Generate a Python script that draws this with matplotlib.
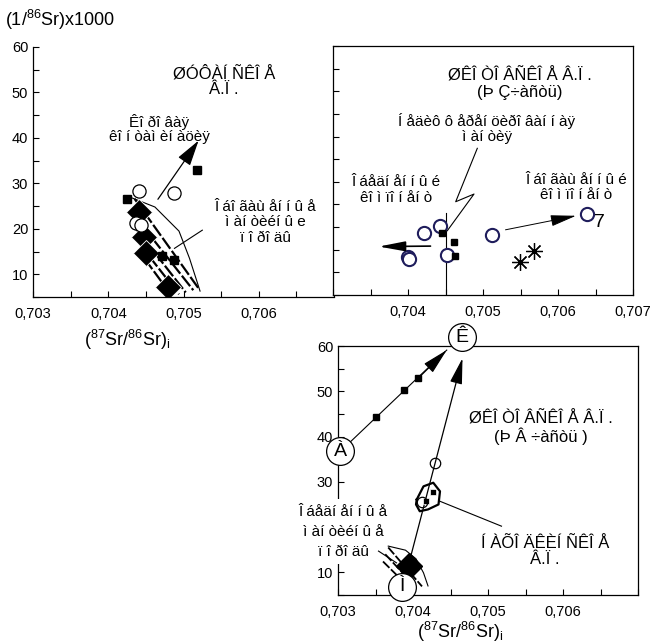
import matplotlib
matplotlib.use("Agg")
import matplotlib.pyplot as plt
from matplotlib.ticker import MultipleLocator, FuncFormatter

plt.rcParams['font.family'] = ['Liberation Sans', 'DejaVu Sans']
plt.rcParams['mathtext.default'] = 'regular'

# ---- Shufan plateau (left) ----
shuf_sq_x = [0.70425, 0.70518, 0.70471, 0.70488]
shuf_sq_y = [26.5, 33.0, 14.0, 13.1]
shuf_circ_x = [0.70441, 0.70487, 0.70437, 0.70444]
shuf_circ_y = [28.3, 27.9, 21.3, 20.8]
shuf_dia_x = [0.70441, 0.70447, 0.70450, 0.70479]
shuf_dia_y = [23.6, 18.2, 14.6, 7.2]
shuf_field_x = [0.70430, 0.70462, 0.70494, 0.70508, 0.70522]
shuf_field_y = [26.9, 24.8, 19.5, 13.5, 6.3]
shuf_stripe_x0 = [0.70435, 0.70432, 0.70436, 0.70441, 0.70448]
shuf_stripe_y0 = [26.6, 23.5, 20.2, 16.8, 13.5]
shuf_stripe_x1 = [0.70520, 0.70513, 0.70503, 0.70494, 0.70484]
shuf_stripe_y1 = [6.9, 6.5, 6.0, 5.6, 5.4]
shuf_crust_from = (0.70466, 26.5)
shuf_crust_to = (0.70520, 39.4)

# ---- Shkotovo plateau, SW part (right) ----
sw_circ_x = [0.70422, 0.70443, 0.70452, 0.70400, 0.70402, 0.70512, 0.70638]
sw_circ_y = [18.8, 20.3, 13.9, 13.3, 13.0, 18.3, 22.8]
sw_sq_x = [0.70445, 0.70461, 0.70462]
sw_sq_y = [18.7, 16.8, 13.6]
sw_star_x = [0.70549, 0.70568]
sw_star_y = [12.2, 14.7]
sw_undiff_x = 0.70450
sw_undiff_top = 23.2
sw_zig_x = [0.704924, 0.704636, 0.70488, 0.704524]
sw_zig_y = [37.4, 25.6, 27.3, 19.2]
sw_depl_from = (0.70430, 15.8)
sw_depl_to = (0.70361, 15.7)
sw_enr_from = (0.70530, 19.4)
sw_enr_to = (0.70624, 22.5)

# ---- Shkotovo SE part and Nakhodka (bottom) ----
end_a = (0.70303, 36.7)
end_k = (0.70465, 61.9)
end_m = (0.703857, 6.8)
ak_tip = (0.70445, 59.1)
mk_start = (0.70393, 11.0)
mk_tip = (0.70466, 57.3)
ak_sq_x = [0.70350, 0.70388, 0.70407]
ak_sq_y = [44.3, 50.2, 52.9]
nakh_sq_x = [0.70417, 0.70427]
nakh_sq_y = [25.7, 27.7]
se_circ_x = [0.70429, 0.70412]
se_circ_y = [34.2, 25.6]
se_dia_x = [0.70394]
se_dia_y = [11.4]
nakh_loop_x = [0.70405, 0.70414, 0.70427, 0.70436, 0.70434, 0.70420, 0.70409, 0.70404, 0.70405]
nakh_loop_y = [26.1, 29.0, 29.8, 27.9, 25.0, 23.9, 23.5, 25.0, 26.1]
se_field_x = [0.70367, 0.70390, 0.70404, 0.70414, 0.70420]
se_field_y = [15.8, 14.9, 13.0, 9.9, 7.0]
se_stripe_x0 = [0.70367, 0.70363, 0.70360]
se_stripe_y0 = [15.5, 14.0, 12.4]
se_stripe_x1 = [0.70412, 0.70404, 0.70396]
se_stripe_y1 = [6.9, 6.7, 6.5]

ndark = '#1f1d5c'


def comma(v):
    return ('%.3f' % v).replace('.', ',')


def setup(ax, xlabels, ylabels):
    ax.set_xlim(0.703, 0.707)
    ax.set_ylim(5, 60)
    ax.xaxis.set_major_locator(MultipleLocator(0.001))
    ax.xaxis.set_minor_locator(MultipleLocator(0.0005))
    ax.yaxis.set_major_locator(MultipleLocator(10))
    ax.yaxis.set_minor_locator(MultipleLocator(5))
    ax.xaxis.set_major_formatter(FuncFormatter(
        lambda v, p: comma(v) if any(abs(v - l) < 1e-7 for l in xlabels) else ''))
    ax.yaxis.set_major_formatter(FuncFormatter(
        lambda v, p: '%d' % round(v) if any(abs(v - l) < 1e-6 for l in ylabels) else ''))
    ax.tick_params(which='both', direction='in', labelsize=10.5, width=0.8, length=4)
    ax.tick_params(axis='x', pad=7)
    for s in ax.spines.values():
        s.set_linewidth(0.9)


def arrow(ax, start, tip, hl, hw, lw=0.9):
    ax.annotate('', xy=tip, xytext=start,
                arrowprops=dict(arrowstyle='-|>,head_length=%g,head_width=%g' % (hl, hw),
                                color='black', lw=lw, shrinkA=0, shrinkB=0,
                                mutation_scale=10))


fig = plt.figure(figsize=(6.5, 6.44), dpi=100)

# left panel
ax1 = fig.add_axes([33 / 650, 1 - 297 / 644, 301 / 650, 250 / 644])
setup(ax1, [0.703, 0.704, 0.705, 0.706], [10, 20, 30, 40, 50, 60])
ax1.spines['top'].set_visible(False)
ax1.spines['right'].set_visible(False)
ax1.plot(shuf_field_x, shuf_field_y, color='black', lw=0.8)
for x0, y0, x1, y1 in zip(shuf_stripe_x0, shuf_stripe_y0, shuf_stripe_x1, shuf_stripe_y1):
    ax1.plot([x0, x1], [y0, y1], color='black', lw=1.6, ls=(0, (6, 1.2)))
ax1.plot(shuf_dia_x, shuf_dia_y, 'D', ms=13, color='black', mec='white', mew=0.6)
ax1.plot(shuf_circ_x, shuf_circ_y, 'o', ms=9.5, mfc='white', mec='black', mew=0.9)
ax1.plot(shuf_sq_x, shuf_sq_y, 's', ms=5.5, color='black')
arrow(ax1, shuf_crust_from, shuf_crust_to, 1.6, 0.45)
ax1.plot([0.70525, 0.70488], [19.7, 15.7], color='black', lw=0.8)
ax1.text(0.70554, 52.4, 'ØÓÔÀÍ ÑÊÎ Å\nÂ.Ï .', ha='center', va='center', fontsize=12,
         linespacing=1.05)
ax1.text(0.70468, 42.0, 'Êî ðî âàÿ\nêî í òàì èí àöèÿ', ha='center', va='center',
         fontsize=11, linespacing=0.95)
ax1.text(0.70609, 21.4, 'Î áî ãàù åí í û å\nì àí òèéí û e\nï î ðî äû', ha='center',
         va='center', fontsize=11, linespacing=1.15)

# right panel
ax2 = fig.add_axes([333 / 650, 1 - 295 / 644, 300 / 650, 249 / 644])
setup(ax2, [0.704, 0.705, 0.706, 0.707], [])
ax2.plot([sw_undiff_x, sw_undiff_x], [5, sw_undiff_top], color='black', lw=0.8)
ax2.plot(sw_zig_x, sw_zig_y, color='black', lw=0.8)
ax2.plot(sw_circ_x, sw_circ_y, 'o', ms=9.5, mfc='white', mec=ndark, mew=1.5)
ax2.plot(sw_sq_x, sw_sq_y, 's', ms=5, color='black')
ax2.plot(sw_star_x, sw_star_y, marker=(8, 2, 0), ls='none', ms=12, color='black',
         mew=0.9)
arrow(ax2, sw_depl_from, sw_depl_to, 1.6, 0.3, lw=1.2)
arrow(ax2, sw_enr_from, sw_enr_to, 1.6, 0.35, lw=0.7)
ax2.text(0.70655, 21.0, '7', ha='center', va='center', fontsize=14)
ax2.text(0.70549, 51.6, 'ØÊÎ ÒÎ ÂÑÊÎ Å Â.Ï .\n(Þ Ç÷àñòü)', ha='center', va='center',
         fontsize=12, linespacing=1.05)
ax2.text(0.70505, 41.7, 'Í åäèô ô åðåí öèðî âàí í àÿ\nì àí òèÿ', ha='center',
         va='center', fontsize=11, linespacing=1.1)
ax2.text(0.70384, 28.2, 'Î áåäí åí í û é\nêî ì ïî í åí ò', ha='center', va='center',
         fontsize=11, linespacing=1.1)
ax2.text(0.70624, 28.8, 'Î áî ãàù åí í û é\nêî ì ïî í åí ò', ha='center', va='center',
         fontsize=11, linespacing=1.1)

# bottom panel
ax3 = fig.add_axes([338 / 650, 1 - 595 / 644, 300 / 650, 249 / 644])
setup(ax3, [0.703, 0.704, 0.705, 0.706], [10, 30, 40, 50, 60])
ax3.plot([end_a[0], ak_tip[0]], [end_a[1], ak_tip[1]], color='black', lw=0.8)
arrow(ax3, (ak_sq_x[-1], ak_sq_y[-1]), ak_tip, 1.6, 0.38)
arrow(ax3, mk_start, mk_tip, 1.6, 0.38)
ax3.plot(ak_sq_x, ak_sq_y, 's', ms=5, color='black')
ax3.plot(nakh_loop_x, nakh_loop_y, color='black', lw=1.6, zorder=6)
ax3.plot(nakh_sq_x, nakh_sq_y, 's', ms=5, color='black', mec='white', mew=0.5, zorder=7)
ax3.plot(se_circ_x, se_circ_y, 'o', ms=7.5, mfc='none', mec='black', mew=0.9, zorder=7)
ax3.plot([0.70436, 0.70518], [25.7, 20.2], color='black', lw=0.8)
ax3.plot(se_field_x, se_field_y, color='black', lw=0.8, zorder=6)
for x0, y0, x1, y1 in zip(se_stripe_x0, se_stripe_y0, se_stripe_x1, se_stripe_y1):
    ax3.plot([x0, x1], [y0, y1], color='black', lw=1.3, ls=(0, (5, 1.2)), zorder=6)
ax3.plot([0.70354, 0.70378], [14.7, 12.1], color='black', lw=0.8, zorder=6)
ax3.plot(se_dia_x, se_dia_y, 'D', ms=13, color='black', zorder=7)
for (cx, cy), lab in zip([end_a, end_k, end_m], ['À', 'Ê', 'Ì']):
    ax3.plot([cx], [cy], 'o', ms=20, mfc='white', mec='black', mew=0.9,
             clip_on=False, zorder=8)
    ax3.text(cx, cy, lab, ha='center', va='center', fontsize=14, zorder=9)
for ty, line in zip([23.4, 19.0, 14.6], ['Î áåäí åí í û å', 'ì àí òèéí û å', 'ï î ðî äû']):
    ax3.text(0.70307, ty, line, ha='center', va='center', fontsize=11, zorder=5,
             clip_on=False, bbox=dict(facecolor='white', edgecolor='none', pad=4))
ax3.text(0.70570, 41.9, 'ØÊÎ ÒÎ ÂÑÊÎ Å Â.Ï .\n(Þ Â ÷àñòü )', ha='center', va='center',
         fontsize=12, linespacing=1.05)
ax3.text(0.70576, 14.6, 'Í ÀÕÎ ÄÊÈÍ ÑÊÎ Å\nÂ.Ï .', ha='center', va='center',
         fontsize=12, linespacing=1.1)

# axis titles
fig.text(5 / 650, 1 - 20 / 644, '(1/$^{86}$Sr)x1000', ha='left', va='center', fontsize=13)
fig.text(127 / 650, 1 - 340 / 644, '($^{87}$Sr/$^{86}$Sr)$_i$', ha='center', va='center',
         fontsize=13)
fig.text(460 / 650, 1 - 632 / 644, '($^{87}$Sr/$^{86}$Sr)$_i$', ha='center', va='center',
         fontsize=13)

fig.savefig('out.png', dpi=100)
